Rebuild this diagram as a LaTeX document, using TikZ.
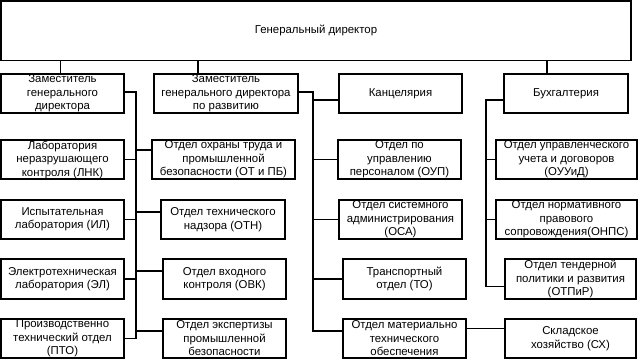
\documentclass[tikz,border=0pt]{standalone}
\usepackage{fontspec}
\setmainfont{Liberation Sans}
\begin{document}
\begin{tikzpicture}[x=1pt,y=-1pt,
  box/.style={draw=black,line width=1.4pt,rectangle,inner sep=0pt,align=center,
    font={\fontsize{11.4pt}{13.5pt}\selectfont}},
  conn/.style={draw=black,line width=1.3pt}]
\useasboundingbox[fill=white] (0,0) rectangle (640,360);
% top
\node[box,minimum width=630pt,minimum height=59.5pt] (top) at (316,30.75) {Генеральный директор};
% row 1
\node[box,minimum width=123pt,minimum height=39pt] (A) at (62.5,93.5) {Заместитель\\генерального\\директора};
\node[box,minimum width=144pt,minimum height=39pt] (B) at (226,93.5) {Заместитель\\генерального директора\\по развитию};
\node[box,minimum width=123pt,minimum height=39pt] (Kanc) at (400.5,93.5) {Канцелярия};
\node[box,minimum width=124pt,minimum height=39pt] (Buh) at (566,93.5) {Бухгалтерия};
% row 2
\node[box,minimum width=123pt,minimum height=39pt] (LNK) at (62.5,159.5) {Лаборатория\\неразрушающего\\контроля (ЛНК)};
\node[box,minimum width=143pt,minimum height=39pt] (OTPB) at (223.5,159.5) {Отдел охраны труда и\\промышленной\\безопасности (ОТ и ПБ)};
\node[box,minimum width=123pt,minimum height=39pt] (OUP) at (399.5,159.5) {Отдел по\\управлению\\персоналом (ОУП)};
\node[box,minimum width=141pt,minimum height=39pt] (OUUD) at (566.5,159.5) {Отдел управленческого\\учета и договоров\\(ОУУиД)};
% row 3
\node[box,minimum width=123pt,minimum height=39pt] (IL) at (62.5,219.5) {Испытательная\\лаборатория (ИЛ)};
\node[box,minimum width=124pt,minimum height=39pt] (OTN) at (223,219.5) {Отдел технического\\надзора (ОТН)};
\node[box,minimum width=123pt,minimum height=39pt] (OSA) at (400.5,219.5) {Отдел системного\\администрирования\\(ОСА)};
\node[box,minimum width=141pt,minimum height=39pt] (ONPS) at (566.5,219.5) {Отдел нормативного\\правового\\сопровождения(ОНПС)};
% row 4
\node[box,minimum width=123pt,minimum height=40pt] (EL) at (62.5,279) {Электротехническая\\лаборатория (ЭЛ)};
\node[box,minimum width=123pt,minimum height=40pt] (OVK) at (224.5,279) {Отдел входного\\контроля (ОВК)};
\node[box,minimum width=123pt,minimum height=40pt] (TO) at (404.5,279) {Транспортный\\отдел (ТО)};
\node[box,minimum width=131pt,minimum height=40pt] (OTPR) at (570.5,279) {Отдел тендерной\\политики и развития\\(ОТПиР)};
% row 5
\node[box,minimum width=123pt,minimum height=39pt] (PTO) at (62.5,338.5) {Производственно\\технический отдел\\(ПТО)};
\node[box,minimum width=123pt,minimum height=39pt] (EPB) at (224.5,338.5) {Отдел экспертизы\\промышленной\\безопасности};
\node[box,minimum width=123pt,minimum height=39pt] (MTO) at (404.5,338.5) {Отдел материально\\технического\\обеспечения};
\node[box,minimum width=131pt,minimum height=39pt] (SH) at (570.5,338.5) {Складское\\хозяйство (СХ)};
% helper coordinates
\coordinate (c1) at (60.5,0);
\coordinate (c2) at (198,0);
\coordinate (c3) at (547,0);
\coordinate (tL) at (136,0);
\coordinate (tM) at (313,0);
\coordinate (tR) at (486,0);
% top connectors
\draw[conn] (c1 |- top.south) -- (c1 |- A.north);
\draw[conn] (c2 |- top.south) -- (c2 |- B.north);
\draw[conn] (c3 |- top.south) -- (c3 |- Buh.north);
% left trunk
\coordinate (aC) at ([yshift=1.5pt]A.east);
\draw[conn] (aC) -| (tL |- PTO.east) -- (PTO.east);
\draw[conn] (LNK.east) -- (tL |- LNK.east);
\draw[conn] (IL.east) -- (tL |- IL.east);
\draw[conn] (EL.east) -- (tL |- EL.east);
\coordinate (otpbC) at ([yshift=9.5pt]OTPB.west);
\coordinate (otnC) at ([yshift=7.5pt]OTN.west);
\coordinate (ovkC) at ([yshift=8pt]OVK.west);
\coordinate (epbC) at ([yshift=7.5pt]EPB.west);
\draw[conn] (otpbC) -- (tL |- otpbC);
\draw[conn] (otnC) -- (tL |- otnC);
\draw[conn] (ovkC) -- (tL |- ovkC);
\draw[conn] (epbC) -- (tL |- epbC);
% middle trunk
\coordinate (bC) at ([yshift=1.5pt]B.east);
\coordinate (mtoC) at ([yshift=7.5pt]MTO.west);
\coordinate (kC) at ([yshift=-6.5pt]Kanc.west);
\draw[conn] (bC) -| (tM |- mtoC) -- (mtoC);
\draw[conn] (kC) -- (tM |- kC);
\draw[conn] (OUP.west) -- (tM |- OUP.west);
\draw[conn] (OSA.west) -- (tM |- OSA.west);
\draw[conn] (TO.west) -- (tM |- TO.west);
% right trunk
\coordinate (buC) at ([yshift=-6.5pt]Buh.west);
\coordinate (otprC) at ([yshift=-7.5pt]OTPR.west);
\draw[conn] (buC) -| (tR |- otprC) -- (otprC);
\draw[conn] (OUUD.west) -- (tR |- OUUD.west);
\draw[conn] (ONPS.west) -- (tR |- ONPS.west);
% MTO to SH
\coordinate (mtoE) at ([yshift=10pt]MTO.east);
\draw[conn] (mtoE) -- (SH.west |- mtoE);
\end{tikzpicture}
\end{document}
